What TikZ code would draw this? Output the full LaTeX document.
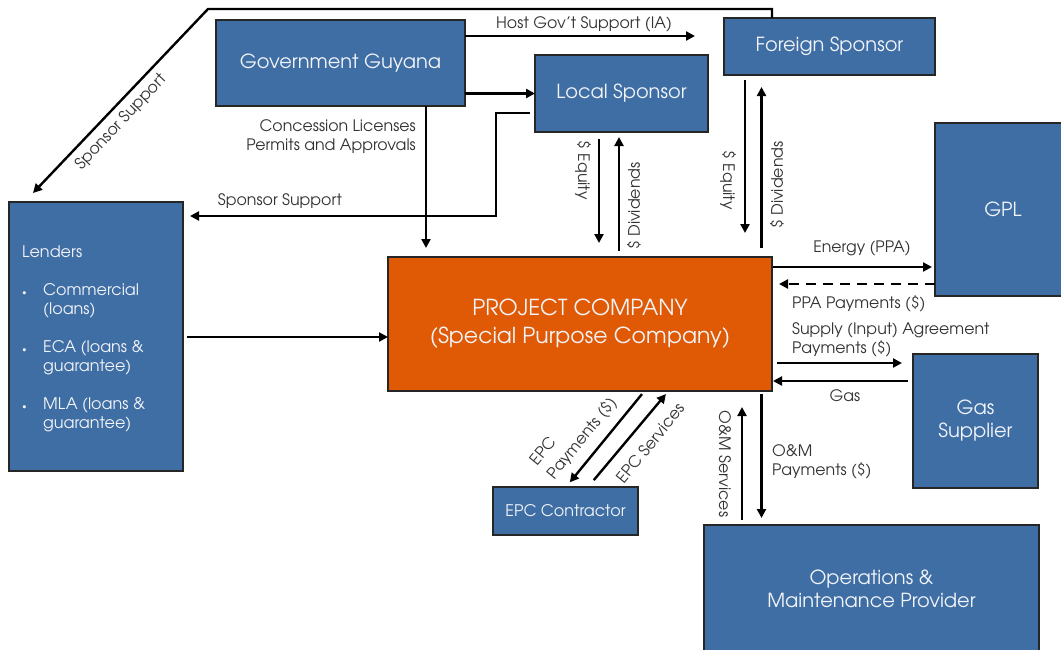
\documentclass[tikz,border=0pt]{standalone}
\usepackage{fontspec}
\setmainfont{TeX Gyre Adventor}
\usetikzlibrary{arrows.meta,calc}
\definecolor{boxblue}{HTML}{3F6EA5}
\definecolor{projorange}{HTML}{E05A05}
\definecolor{labelgray}{HTML}{333333}
\definecolor{boxtext}{HTML}{F2F4F8}
\begin{document}
\begin{tikzpicture}[x=1pt,y=-1pt,
  box/.style={draw=black!85, line width=1.1pt, fill=boxblue, text=boxtext, anchor=north west,
    inner sep=0pt, outer sep=0pt, font=\fontsize{19.4}{23}\selectfont, align=center},
  arr/.style={line width=2.4pt, -{Triangle[length=9pt,width=9pt]}},
  lab/.style={text=labelgray, font=\fontsize{15.8}{19}\selectfont, inner sep=0pt}
]
\useasboundingbox (0,0) rectangle (1061,649);
% boxes
\node[box, minimum width=249pt, minimum height=86pt] (gov) at (216,20) {Government Guyana};
\node[box, minimum width=173pt, minimum height=77pt] (local) at (535,55) {Local Sponsor};
\node[box, minimum width=211pt, minimum height=57pt] (foreign) at (724,18) {Foreign Sponsor};
\node[box, minimum width=136pt, minimum height=173pt] (gpl) at (935,123) {GPL};
\node[box, minimum width=174pt, minimum height=269pt] (lenders) at (9,202) {};
\node[box, fill=projorange, minimum width=384pt, minimum height=134pt, font=\fontsize{22}{28}\selectfont] (project) at (388,257) {PROJECT COMPANY\\(Special Purpose Company)};
\node[box, minimum width=125pt, minimum height=134pt, font=\fontsize{19.4}{23}\selectfont] (gas) at (913,354) {Gas\\Supplier};
\node[box, minimum width=145pt, minimum height=48pt, font=\fontsize{16}{19}\selectfont] (epc) at (493,487) {EPC Contractor};
\node[box, minimum width=335pt, minimum height=128pt] (om) at (704,525) {Operations \&\\Maintenance Provider};
% lenders text
\node[anchor=base west, inner sep=0pt, text=boxtext, font=\fontsize{16}{19}\selectfont] (lenderstext) at (22,257)
 {\begin{tabular}[t]{@{}p{21pt}@{}l@{}}
  \multicolumn{2}{@{}l@{}}{Lenders}\\[19pt]
  {\fontsize{9}{19}\selectfont\textbullet} & Commercial\\
   & (loans)\\[19pt]
  {\fontsize{9}{19}\selectfont\textbullet} & ECA (loans \&\\
   & guarantee)\\[19pt]
  {\fontsize{9}{19}\selectfont\textbullet} & MLA (loans \&\\
   & guarantee)
 \end{tabular}};
% Host gov't support
\coordinate (hostend) at (695,36);
\draw[arr] (gov.east |- hostend) -- (hostend);
\node[lab] at (584,24) {Host Gov’t Support (IA)};
% gov -> local
\draw[arr] (gov.east |- local.west) -- (local.west);
% concession
\coordinate (cx) at (426,0);
\draw[arr, shorten >=9pt] (gov.south -| cx) -- (project.north -| cx);
\node[lab, align=right, anchor=east] at (416,137) {Concession Licenses\\Permits and Approvals};
% local -> lenders sponsor support
\coordinate (ls1) at (496,113);
\coordinate (ls2) at (496,216);
\draw[arr, shorten <=5pt, shorten >=7pt] (local.west |- ls1) -- (ls1) -- (ls2) -- (lenders.east |- ls2);
\node[lab] at (280,201) {Sponsor Support};
% foreign -> lenders
\coordinate (f1) at (772,9);
\coordinate (f2) at (208,9);
\coordinate (f3) at (33,193);
\draw[arr] (foreign.north -| f1) -- (f1) -- (f2) -- (f3);
\node[lab, rotate=46.6] at (121,122) {Sponsor Support};
% local equity/dividends
\coordinate (le) at (599,0);
\coordinate (ld) at (619,0);
\draw[arr, shorten <=7pt, shorten >=14pt] (local.south -| le) -- (project.north -| le);
\draw[arr, shorten <=6pt, shorten >=5pt] (project.north -| ld) -- (local.south -| ld);
\node[lab, rotate=-90] at (583,170) {\$ Equity};
\node[lab, rotate=90] at (634,206) {\$ Dividends};
% foreign equity/dividends
\coordinate (fe) at (745,0);
\coordinate (fd) at (761.5,0);
\draw[arr, shorten <=5pt, shorten >=24pt] (foreign.south -| fe) -- (project.north -| fe);
\draw[arr, shorten <=9pt, shorten >=12pt] (project.north -| fd) -- (foreign.south -| fd);
\node[lab, rotate=-90] at (728,180) {\$ Equity};
\node[lab, rotate=90] at (777,185) {\$ Dividends};
% GPL
\coordinate (en) at (0,267);
\draw[arr, shorten <=1pt, shorten >=3pt] (project.east |- en) -- (gpl.west |- en);
\node[lab] at (862,248) {Energy (PPA)};
\coordinate (pp) at (0,284);
\draw[arr, dash pattern=on 10pt off 7pt, shorten >=7pt] (gpl.west |- pp) -- (project.east |- pp);
\node[lab, anchor=west] at (792,304) {PPA Payments (\$)};
% Gas
\coordinate (su) at (0,363);
\draw[arr, shorten <=5pt, shorten >=11pt] (project.east |- su) -- (gas.west |- su);
\node[lab, align=left, anchor=west] at (792,340) {Supply (Input) Agreement\\Payments (\$)};
\coordinate (ga) at (0,381);
\draw[arr, shorten <=5pt, shorten >=1pt] (gas.west |- ga) -- (project.east |- ga);
\node[lab] at (845,396) {Gas};
% EPC
\coordinate (ep1) at (644.5,0);
\coordinate (ep2) at (566,0);
\draw[arr, shorten <=4pt, shorten >=6pt] (project.south -| ep1) -- (epc.north -| ep2);
\coordinate (es1) at (588,0);
\coordinate (es2) at (668.5,0);
\draw[arr, shorten <=9pt, shorten >=4pt] (epc.north -| es1) -- (project.south -| es2);
\node[lab, rotate=50.7, align=left, font=\fontsize{15.8}{22}\selectfont] at (574,432) {EPC\\Payments (\$)};
\node[lab, rotate=50.7] at (650,443) {EPC Services};
% O&M
\coordinate (os) at (742,0);
\coordinate (op) at (761.5,0);
\draw[arr, shorten <=5pt, shorten >=16pt] (om.north -| os) -- (project.south -| os);
\draw[arr, shorten <=3pt, shorten >=7pt] (project.south -| op) -- (om.north -| op);
\node[lab, rotate=-90] at (725,464) {O\&M Services};
\node[lab, align=left, anchor=west] at (772,462) {O\&M\\Payments (\$)};
% lenders -> project
\coordinate (lp) at (0,337);
\draw[arr, shorten <=4pt] (lenders.east |- lp) -- (project.west |- lp);
\end{tikzpicture}
\end{document}
